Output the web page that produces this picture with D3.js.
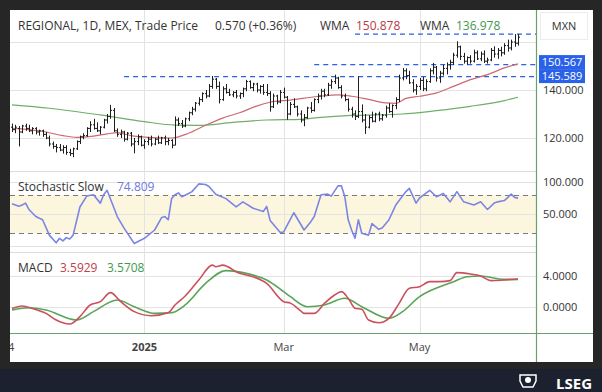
<!DOCTYPE html>
<html><head><meta charset="utf-8">
<script src="https://cdn.jsdelivr.net/npm/d3@7/dist/d3.min.js"></script>
<style>html,body{margin:0;padding:0;background:#262626;}svg{display:block;font-family:"Open Sans",sans-serif;}</style>
</head><body>
<svg id="c" width="602" height="392"></svg>
<script>
// ---------- DATA ----------
// bar index 0..149 (daily, Nov 2024 .. mid Jun 2025)
const opens = [124.5,123.5,124,122.5,125,124,123,124,122.5,123,121.5,120,117.5,116.5,116,115,116,114,113.5,115.5,118.5,120.5,121,124,125.5,124,123,124.5,127.5,129,131.5,123,121.5,122.5,119.5,122,117.5,118.5,120.5,117,118.5,119.5,117.5,119.5,118,120,118.5,119,117,127.5,126,125,128,130.5,132,134.5,136,138.5,137.5,141.5,144.5,141.5,136,140.5,139,138,139,137.5,138.5,140.5,143.5,141,142.5,140,141.5,139,138.5,133,137.5,135,139,137,130,134,133,130,127.5,128.5,132.5,131.5,136,137.5,139.5,138,142,143.5,145,141,137.5,136,132,130,129,131,127.5,124.5,128.5,127,130,128,129.5,132.5,131,133.5,136,145,148,146,143,140,141.5,144,140.5,143.5,148,149.5,145,147,149,150.5,151.5,154.5,158,154,152,153.5,152,155.5,153,155,152,152.5,156.5,155,156.5,155.5,158.5,157.5,160,159.5];
const highs = [126,125.5,125,125.5,126,125.5,124.5,124.5,123.5,123.5,122.5,121,118.5,117.5,117.5,117,117,115.5,116,119,121,122,124.5,127,128,126.5,125,128,130,133.8,132.5,124,123.5,123,122.5,122.5,120,121.5,121,119.5,120.5,121,120,121,120.5,121,120,119.5,129,128.5,127.5,128.5,131,133,135,137,139,140,142.5,145.8,145,143.5,141.5,142.5,140.5,139.5,140,139,141,144.2,144,143,143,142,142.5,142.5,139.5,138.5,138,140,141,137.5,135,136.5,133.5,131.5,130,133,135,136.5,138.5,140.5,140.5,143,144.5,146.4,145.5,142,138.5,136.5,133,131.5,145.7,134,130,129.5,131,130.5,131,130,133.5,134.5,134,137,146.4,149.2,149,148,144.5,142.5,145,145.5,144.5,149,151.3,150,148,150.5,151.5,152.6,155.5,160.3,158.5,155.5,154,154.5,156.8,156.5,156,156.5,153.5,157.5,158.2,157.5,158,159.5,161,161,163.3,163.3];
const lows = [122.5,122,116.5,122,123,122.5,121.5,121.5,121,120.5,119.5,116.5,115.5,114,114.5,113.5,113,112.5,112,115,117.5,119.5,120.5,122.5,123.5,122.5,121.5,124,126,128,122.5,120.5,120,118.5,119,116.5,113.6,117,116.5,115.5,117,116.5,117,117.5,117.5,117,117,115.7,117,125,124.2,124.5,127,129.5,131,133.5,135,136.5,137,140.5,140.5,134.4,135.5,138.5,137.5,137,136.5,136.3,137,139.5,140.5,139.5,139,138.5,138,137.5,131,132.5,134,134.5,136.5,127.6,129.5,132.5,129,126.5,124.9,128,130.5,131,134.5,136,137,137.5,140.5,142.5,140.5,136.5,135.3,131,128.5,127.5,128.3,126.5,121.7,124,126.5,126.5,127,127.2,128.5,130.5,128.5,132,135,144,144.5,142.5,139,138,140,139.5,139.5,143,146.5,143.5,143,146,146.5,148.5,150.5,153.5,152.5,151,150.5,151,151.5,152.5,152,151.25,151,152,153.5,153,154,154.7,156,156.5,158,158.5];
const closes = [123.5,124.5,122.5,125,124,123,124,122.5,123,121.5,120,117.5,116.5,116,115,116,114,113.5,115.5,118.5,120.5,121,124,125.5,124,123,124.5,127.5,129,131.5,123,121.5,122.5,119.5,122,117.5,118.5,120.5,117,118.5,119.5,117.5,119.5,118,120,118.5,119,117,127.5,126,125,128,130.5,132,134.5,136,138.5,137.5,141.5,144.5,141.5,136,140.5,139,138,139,137.5,138.5,140.5,143.5,141,142.5,140,141.5,139,138.5,133,137.5,135,139,137,130,134,133,130,127.5,128.5,132.5,131.5,136,137.5,139.5,138,142,143.5,145,141,137.5,136,132,130,129,131,127.5,124.5,128.5,127,130,128,129.5,132.5,131,133.5,136,145,148,146,143,140,141.5,144,140.5,143.5,148,149.5,145,147,149,150.5,151.5,154.5,158,154,152,153.5,152,155.5,153,155,152,152.5,156.5,155,156.5,155.5,158.5,157.5,160,159.5,162];

// weighted moving averages (sampled along the lines)
const wmaFastIdx = [0,5,10,15,19,24,28,31,35,40,47,52,57,62,67,72,76,82,90,96,100,104,110,113,116,120,125,130,135,140,145,149];
const wmaFastVal = [124,123.5,122.5,121,120.3,120.8,121.7,122.2,121,120.3,120,122,125.3,128.3,130.5,133.3,134.9,135.8,137.3,138,137.4,136.4,134.6,134.4,136.5,137.4,138.8,141.5,144.3,146.4,149.2,150.878];
const wmaSlowIdx = [0,11,26,39,48,56,65,75,85,91,100,115,125,135,145,149];
const wmaSlowVal = [133.8,132.4,129.6,126.8,125.4,125.3,126.5,127.5,127.8,128.6,129.4,130,131.4,133.2,135.6,136.978];

// horizontal level lines
const levelVals = [163.3,150.567,145.589];
const levelStart = [101,89,33];
const priceTagVals = [150.567,145.589];

// stochastic slow
const stochIdx = [0,2,3,4,5,7,9,11,13,14,15,16,17,18,20,22,24,26,27,28,31,33,36,39,42,44,45,46,47,48,49,50,52,53,55,57,58,60,63,66,68,71,74,75,76,79,80,83,86,88,89,91,93,94,96,97,98,99,100,101,102,103,105,106,108,109,111,113,116,117,119,120,123,125,127,129,131,133,136,138,140,142,143,145,147,148,149];
const stochVal = [66,62,64,67,57,46,41,17,5,12,8,13,11,17,61,78,80,67,80,87,46,28,4,12,25,44,46,41,74,80,83,77,82,85,97,96,93,81,74,61,69,59,54,62,40,21,22,52,25,38,46,80,81,78,94,94,77,41,25,12,41,20,17,35,26,28,41,64,85,90,67,75,87,77,82,69,85,69,64,69,57,67,69,71,81,76,74.809];

// MACD and signal
const macdIdx = [0,3,6,10,13,17,20,23,26,29,32,36,41,46,48,51,55,59,60,62,67,71,75,80,82,85,86,89,92,95,97,99,101,103,105,108,111,114,117,120,123,126,129,131,135,138,141,145,149];
const macdVal = [-0.2,0.13,-0.18,-0.82,-1.68,-2.2,-1.25,0.26,0.69,1.85,0.69,-0.6,-1.12,-0.73,0.26,1.42,3.48,5.4,5.2,5.4,4.34,3.9,3.05,0.69,0.5,-0.5,-0.82,-0.82,0.47,1.55,1.98,1.12,-0.17,-0.3,-1.68,-2.03,-1.46,0.47,2.41,2.62,3.27,3.27,3.4,4.43,4.26,4.0,3.4,3.48,3.5929];
const sigIdx = [0,5,10,19,24,31,36,42,47,51,57,63,69,75,80,82,87,92,98,103,111,115,120,126,130,134,138,145,149];
const sigVal = [-0.39,-0.09,-0.39,-1.68,-0.6,0.9,0.04,-0.82,-0.73,0.26,3.05,4.69,4.34,3.48,1.98,1.33,0.04,0.26,1.12,0.04,-1.46,-0.6,1.33,2.62,3.27,3.91,4.0,3.57,3.5708];

// axes
const xTickIdx = [-3,39,80,120];
const xTickLabels = ["2024","2025","Mar","May"];
const xTickBold = [false,true,false,false];
const priceTicks = [160,140,120];
const priceTickLabels = ["","140.000","120.000"];
const stochTicks = [100,50];
const macdTicks = [4,0];

// ---------- DRAW ----------
const svg = d3.select("#c");
const N = closes.length;
const x = d3.scaleLinear().domain([0, N-1]).range([12, 518]);
const yP = d3.scaleLinear().domain([120,140]).range([138,90]);
const yS = d3.scaleLinear().domain([50,100]).range([214,182]);
const yM = d3.scaleLinear().domain([0,4]).range([307,276]);

const plotL = 10, plotR = 536, plotT = 10, plotB = 333;

svg.append("rect").attr("width",602).attr("height",392).attr("fill","#262626");
svg.append("rect").attr("x",0).attr("y",369).attr("width",602).attr("height",23).attr("fill","#1c2130");
svg.append("rect").attr("x",10).attr("y",10).attr("width",583).attr("height",352).attr("fill","#ffffff");

const defs = svg.append("defs");
defs.append("clipPath").attr("id","plot").append("rect").attr("x",plotL).attr("y",plotT).attr("width",plotR-plotL).attr("height",plotB-plotT);
defs.append("clipPath").attr("id","white").append("rect").attr("x",10).attr("y",10).attr("width",583).attr("height",352);

const g = svg.append("g").attr("clip-path","url(#plot)");
const grid = "#e3e3e3";

// stochastic band
g.append("rect").attr("x",plotL).attr("width",plotR-plotL)
  .attr("y",yS(80)).attr("height",yS(20)-yS(80)).attr("fill","#fdf6df");

// horizontal gridlines
priceTicks.forEach(v=>g.append("line").attr("x1",plotL).attr("x2",plotR).attr("y1",Math.round(yP(v))+0.5).attr("y2",Math.round(yP(v))+0.5).attr("stroke",grid));
[100,50,0].forEach(v=>g.append("line").attr("x1",plotL).attr("x2",plotR).attr("y1",Math.round(yS(v))+0.5).attr("y2",Math.round(yS(v))+0.5).attr("stroke",grid));
macdTicks.forEach(v=>g.append("line").attr("x1",plotL).attr("x2",plotR).attr("y1",Math.round(yM(v))+0.5).attr("y2",Math.round(yM(v))+0.5).attr("stroke",grid));
// panel separators
[171.5,252.5].forEach(yy=>g.append("line").attr("x1",plotL).attr("x2",plotR).attr("y1",yy).attr("y2",yy).attr("stroke","#dcdcdc"));
// vertical gridlines
xTickIdx.forEach(i=>g.append("line").attr("x1",Math.round(x(i))+0.5).attr("x2",Math.round(x(i))+0.5).attr("y1",plotT).attr("y2",plotB).attr("stroke",grid));

// stoch 80/20 dashed
[80,20].forEach(v=>g.append("line").attr("x1",plotL).attr("x2",plotR).attr("y1",Math.round(yS(v))+0.5).attr("y2",Math.round(yS(v))+0.5)
  .attr("stroke","#7a7a7a").attr("stroke-dasharray","5,4"));

// level lines
levelVals.forEach((v,k)=>g.append("line").attr("x1",x(levelStart[k])).attr("x2",plotR).attr("y1",yP(v)).attr("y2",yP(v))
  .attr("stroke","#2f62e0").attr("stroke-width",1.2).attr("stroke-dasharray","5,4"));

// WMA lines
const lineP = (idx,val)=>d3.line().x((d,k)=>x(idx[k])).y(d=>yP(d)).curve(d3.curveMonotoneX)(val);
g.append("path").attr("d",lineP(wmaSlowIdx,wmaSlowVal)).attr("fill","none").attr("stroke","#6fae6a").attr("stroke-width",1.2);
g.append("path").attr("d",lineP(wmaFastIdx,wmaFastVal)).attr("fill","none").attr("stroke","#cc6a70").attr("stroke-width",1.2);

// OHLC bars
const bars = g.append("g").attr("stroke","#1e1e1e").attr("stroke-width",1).attr("fill","none");
closes.forEach((c,i)=>{
  const xx = Math.round(x(i))+0.5;
  bars.append("path").attr("d",
    `M${xx},${yP(highs[i])}V${yP(lows[i])}M${xx-1.5},${yP(opens[i])}H${xx}M${xx},${yP(c)}H${xx+1.5}`);
});

// stochastic
g.append("path").attr("d",d3.line().x((d,k)=>x(stochIdx[k])).y(d=>yS(d))(stochVal))
  .attr("fill","none").attr("stroke","#7b86e4").attr("stroke-width",1.6).attr("stroke-linejoin","round");

// MACD
const lineM = (idx,val)=>d3.line().x((d,k)=>x(idx[k])).y(d=>yM(d)).curve(d3.curveMonotoneX)(val);
g.append("path").attr("d",lineM(sigIdx,sigVal)).attr("fill","none").attr("stroke","#5aa457").attr("stroke-width",1.6);
g.append("path").attr("d",lineM(macdIdx,macdVal)).attr("fill","none").attr("stroke","#c9515c").attr("stroke-width",1.6);

// frame lines (green)
svg.append("line").attr("x1",plotR+0.5).attr("x2",plotR+0.5).attr("y1",10).attr("y2",362).attr("stroke","#6d9f6a").attr("stroke-width",1.2);
svg.append("line").attr("x1",10).attr("x2",593).attr("y1",plotB+0.5).attr("y2",plotB+0.5).attr("stroke","#6d9f6a").attr("stroke-width",1.2);

// right axis labels
const axT = svg.append("g").attr("font-size",11).attr("fill","#333");
priceTicks.forEach((v,k)=>{ if(priceTickLabels[k]) axT.append("text").attr("x",543).attr("y",yP(v)+4).text(priceTickLabels[k]); });
stochTicks.forEach(v=>axT.append("text").attr("x",543).attr("y",yS(v)+4).text(d3.format(".3f")(v)));
macdTicks.forEach(v=>axT.append("text").attr("x",543).attr("y",yM(v)+4).text(d3.format(".4f")(v)));

// price tags
let c2 = yP(priceTagVals[1]) - 0.5;
let c1 = Math.min(yP(priceTagVals[0]), c2-14);
[[priceTagVals[0],c1],[priceTagVals[1],c2]].forEach(([v,cy])=>{
  svg.append("rect").attr("x",539).attr("y",cy-7).attr("width",46).attr("height",14).attr("fill","#2962e8");
  svg.append("text").attr("x",562).attr("y",cy+4).attr("text-anchor","middle").attr("font-size",11).attr("fill","#fff").text(d3.format(".3f")(v));
});

// MXN box
svg.append("rect").attr("x",540.5).attr("y",12.5).attr("width",47).attr("height",27).attr("fill","#fff").attr("stroke","#ececec");
svg.append("text").attr("x",564).attr("y",30).attr("text-anchor","middle").attr("font-size",11).attr("fill","#333").text("MXN");

// header legend
const hd = svg.append("g").attr("font-size",12);
hd.append("text").attr("x",18).attr("y",30).attr("fill","#333").text("REGIONAL, 1D, MEX, Trade Price");
hd.append("text").attr("x",215).attr("y",30).attr("fill","#333").text("0.570 (+0.36%)");
hd.append("text").attr("x",320).attr("y",30).attr("fill","#333").text("WMA");
hd.append("text").attr("x",356).attr("y",30).attr("fill","#b93a48").text(d3.format(".3f")(wmaFastVal[wmaFastVal.length-1]));
hd.append("text").attr("x",420).attr("y",30).attr("fill","#333").text("WMA");
hd.append("text").attr("x",456).attr("y",30).attr("fill","#3f9a4c").text(d3.format(".3f")(wmaSlowVal[wmaSlowVal.length-1]));

hd.append("text").attr("x",18).attr("y",191).attr("fill","#333").text("Stochastic Slow");
hd.append("text").attr("x",117).attr("y",191).attr("fill","#6f78e0").text(d3.format(".3f")(stochVal[stochVal.length-1]));
hd.append("text").attr("x",18).attr("y",272).attr("fill","#333").text("MACD");
hd.append("text").attr("x",60).attr("y",272).attr("fill","#c0404c").text(d3.format(".4f")(macdVal[macdVal.length-1]));
hd.append("text").attr("x",107).attr("y",272).attr("fill","#3f9a4c").text(d3.format(".4f")(sigVal[sigVal.length-1]));

// x-axis labels
const xl = svg.append("g").attr("clip-path","url(#white)").attr("font-size",11).attr("fill","#444").attr("text-anchor","middle");
xTickIdx.forEach((i,k)=>xl.append("text").attr("x",x(i)).attr("y",351).attr("font-weight",xTickBold[k]?"bold":"normal").text(xTickLabels[k]));

// LSEG logo
const lg = svg.append("g").attr("fill","#fff");
lg.append("text").attr("x",592).attr("y",389).attr("text-anchor","end").attr("font-size",15).attr("font-weight","bold").text("LSEG");
lg.append("path").attr("d","M520,375h16v6l-3,6h-10l-3,-6z").attr("fill","none").attr("stroke","#fff").attr("stroke-width",1.5);
lg.append("circle").attr("cx",528).attr("cy",380).attr("r",3);
</script>
</body></html>
